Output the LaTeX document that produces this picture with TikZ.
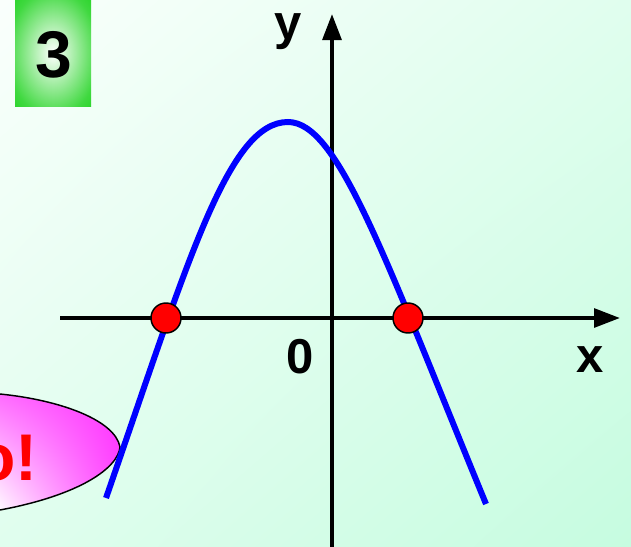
\documentclass[tikz,border=0pt]{standalone}
\usepackage{fontspec}
\setmainfont{Liberation Sans}
\usetikzlibrary{arrows.meta,shadings}
\definecolor{bgA}{RGB}{250,255,252}
\definecolor{bgB}{RGB}{224,254,238}
\definecolor{bgC}{RGB}{198,252,224}
\definecolor{boxgreen}{RGB}{0,204,0}
\definecolor{pinkA}{RGB}{255,110,255}
\definecolor{pinkB}{RGB}{255,50,255}
\definecolor{pinkC}{RGB}{255,70,255}
\pgfdeclareradialshading{boxshade}{\pgfpoint{0bp}{0bp}}{color(0bp)=(white); color(6bp)=(white!85!boxgreen); color(30bp)=(boxgreen!75!white); color(50bp)=(boxgreen)}
\begin{document}
\begin{tikzpicture}[x=0.75pt,y=-0.75pt,
  lbl/.style={font=\fontsize{36.75pt}{40pt}\selectfont\bfseries, text=black, inner sep=0pt, anchor=base},
  bignum/.style={font=\fontsize{49.5pt}{52pt}\selectfont\bfseries, text=black, inner sep=0pt, anchor=base},
  axisline/.style={line width=3pt, draw=black, -{Triangle[length=19.5pt,width=14pt]}},
  curveline/.style={line width=4.5pt, draw={rgb,255:red,0;green,0;blue,255}},
  dot/.style={circle, fill={rgb,255:red,255;green,0;blue,0}, draw=black, line width=1.1pt, minimum size=22.5pt, inner sep=0pt}
]
\useasboundingbox (0,0) rectangle (631,546);
\shade[upper left=bgA, upper right=bgB, lower left=bgB, lower right=bgC] (0,0) rectangle (631,546);
\begin{scope}
\clip (0,0) rectangle (631,546);
% box with number
\shade[shading=boxshade] (15,0) rectangle (91,106);
\node[bignum] (num) at (53.5,77) {3};
% callout shape
\shade[draw=black, line width=1.1pt, lower left=white, upper left=pinkA, upper right=pinkB, lower right=pinkC]
  (0,394) .. controls (60,400) and (115,420) .. (120,447)
  .. controls (118,468) and (80,495) .. (0,510) -- (-6,510) -- (-6,394) -- cycle;
\node[font=\fontsize{49.5pt}{52pt}\selectfont\bfseries, text={rgb,255:red,255;green,0;blue,0}, inner sep=0pt, anchor=base east] (msg) at (38,480) {о!};
% axes
\coordinate (xs) at (60,318);
\coordinate (xe) at (620,318);
\coordinate (ys) at (332,550);
\coordinate (ye) at (332,14);
\draw[axisline] (xs) -- (xe);
\draw[axisline] (ys) -- (ye);
\node[lbl] (ylab) at (288,39) {y};
\node[lbl] (xlab) at (590,372) {x};
\node[lbl] (olab) at (300,373) {0};
% parabola
\coordinate (pl) at (106,498);
\coordinate (pv) at (288,122);
\coordinate (pr) at (486,504);
\draw[curveline] (pl) .. controls (188,262) and (228,122) .. (pv)
  .. controls (338,122) and (384,256) .. (pr);
\node[dot] (r1) at (166,318) {};
\node[dot] (r2) at (408,318) {};
\end{scope}
\end{tikzpicture}
\end{document}
